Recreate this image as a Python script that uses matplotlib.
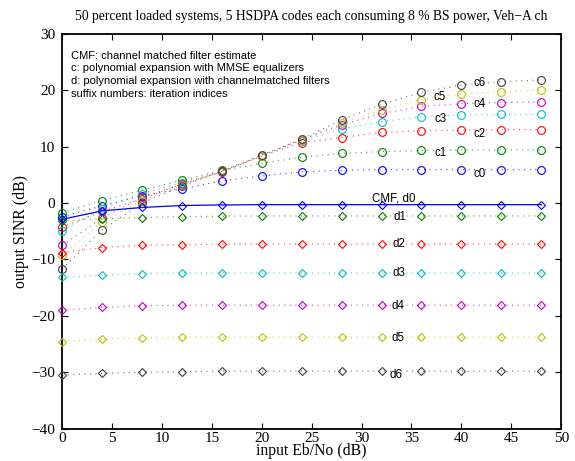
import matplotlib
matplotlib.use("Agg")
import matplotlib.pyplot as plt

# input Eb/No (dB)
ebno = [0, 4, 8, 12, 16, 20, 24, 28, 32, 36, 40, 44, 48]

# polynomial expansion with MMSE equalizers (circles)
c0 = [-2.45, -0.5, 1.3, 2.5, 3.9, 4.8, 5.5, 5.8, 5.9, 5.9, 5.9, 5.9, 5.9]
c1 = [-1.7, 0.4, 2.3, 4.0, 5.8, 7.0, 8.1, 8.8, 9.1, 9.3, 9.4, 9.4, 9.4]
c2 = [-4.3, -1.5, 0.7, 3.4, 5.5, 8.3, 10.7, 11.6, 12.5, 12.8, 12.9, 13.0, 13.0]
c3 = [-4.9, -1.0, 1.6, 3.6, 5.7, 8.4, 11.0, 13.1, 14.4, 15.3, 15.6, 15.7, 15.7]
c4 = [-7.5, -2.7, 1.0, 3.3, 5.6, 8.4, 11.2, 13.8, 15.9, 17.1, 17.6, 17.8, 17.9]
c5 = [-9.2, -3.4, 0.4, 3.1, 5.6, 8.4, 11.2, 14.1, 16.5, 18.3, 19.3, 19.7, 20.0]
c6 = [-11.7, -4.8, 0.0, 3.0, 5.6, 8.5, 11.3, 14.7, 17.5, 19.6, 20.9, 21.5, 21.8]

# CMF estimate (d0) and polynomial expansion with channel matched filters (diamonds)
d0 = [-2.9, -1.4, -0.8, -0.45, -0.35, -0.3, -0.3, -0.3, -0.3, -0.3, -0.3, -0.3, -0.3]
d1 = [-3.2, -2.8, -2.6, -2.4, -2.35, -2.3, -2.3, -2.3, -2.3, -2.3, -2.3, -2.3, -2.3]
d2 = [-8.8, -7.9, -7.5, -7.4, -7.3, -7.3, -7.3, -7.3, -7.3, -7.3, -7.3, -7.3, -7.3]
d3 = [-13.2, -12.8, -12.5, -12.4, -12.4, -12.4, -12.4, -12.4, -12.4, -12.4, -12.4, -12.4, -12.4]
d4 = [-19.0, -18.5, -18.2, -18.1, -18.1, -18.1, -18.1, -18.1, -18.1, -18.1, -18.1, -18.1, -18.1]
d5 = [-24.6, -24.1, -23.9, -23.8, -23.8, -23.8, -23.8, -23.8, -23.8, -23.8, -23.8, -23.8, -23.8]
d6 = [-30.5, -30.2, -30.0, -29.9, -29.8, -29.8, -29.8, -29.8, -29.8, -29.8, -29.8, -29.8, -29.8]

c_series = [c0, c1, c2, c3, c4, c5, c6]
d_series = [d0, d1, d2, d3, d4, d5, d6]

# label positions (x, y) per curve
c_labels = ["c0", "c1", "c2", "c3", "c4", "c5", "c6"]
c_label_pos = [(41.8, 5.2), (37.9, 8.9), (41.8, 12.3), (37.9, 14.8),
               (41.8, 17.5), (37.8, 18.7), (41.8, 21.2)]
d_labels = ["CMF, d0", "d1", "d2", "d3", "d4", "d5", "d6"]
d_label_pos = [(33.2, 0.8), (33.8, -2.4), (33.7, -7.3), (33.7, -12.4),
               (33.7, -18.2), (33.7, -24.0), (33.5, -30.4)]

title = "50 percent loaded systems, 5 HSDPA codes each consuming 8 % BS power, Veh\u2212A ch"
info_lines = ["CMF: channel matched filter estimate",
              "c: polynomial expansion with MMSE equalizers",
              "d: polynomial expansion with channelmatched filters",
              "suffix numbers: iteration indices"]

# matlab default line colours
colors = [(0, 0, 1), (0, 0.5, 0), (1, 0, 0), (0, 0.75, 0.75),
          (0.75, 0, 0.75), (0.75, 0.75, 0), (0.25, 0.25, 0.25)]

serif = "Liberation Serif"
sans = "Liberation Sans"

fig = plt.figure(figsize=(5.75, 4.61), dpi=100)
ax = fig.add_axes([0.108, 0.070, 0.868, 0.857])

for i, y in enumerate(c_series):
    ax.plot(ebno, y, linestyle=(0, (1, 4)), linewidth=0.8, color=colors[i],
            alpha=0.75, clip_on=False, zorder=2)
    ax.plot(ebno, y, linestyle="none", color=colors[i],
            marker="o", markersize=5.6, markerfacecolor="none",
            markeredgewidth=0.8, clip_on=False, zorder=3)

for i, y in enumerate(d_series):
    if i == 0:
        ax.plot(ebno, y, linestyle="-", linewidth=0.9, color=colors[i],
                clip_on=False, zorder=2)
    else:
        ax.plot(ebno, y, linestyle=(0, (1, 4)), linewidth=0.8, color=colors[i],
                alpha=0.75, clip_on=False, zorder=2)
    ax.plot(ebno, y, linestyle="none", color=colors[i],
            marker="D", markersize=4.3, markerfacecolor="none",
            markeredgewidth=0.8, clip_on=False, zorder=3)

for lab, (x, y) in zip(c_labels, c_label_pos):
    ax.text(x, y, lab, fontsize=8.3, family=sans, ha="center", va="center")
for lab, (x, y) in zip(d_labels, d_label_pos):
    ax.text(x, y, lab, fontsize=8.3, family=sans, ha="center", va="center")

for k, line in enumerate(info_lines):
    ax.text(0.9, 26.1 - k * 2.27, line, fontsize=8, family=sans,
            ha="left", va="center")

ax.set_xlim(0, 50)
ax.set_ylim(-40, 30)
ax.set_xticks(range(0, 51, 5))
ax.set_yticks(range(-40, 31, 10))
ax.tick_params(direction="in", top=True, right=True, length=4, width=0.8,
               labelsize=11)
ax.tick_params(axis="x", pad=2)
ax.tick_params(axis="y", pad=5)
for lab in ax.get_xticklabels() + ax.get_yticklabels():
    lab.set_family(serif)
for sp in ax.spines.values():
    sp.set_linewidth(1.3)

ax.set_title(title, fontsize=9.8, family=serif, pad=10)
ax.set_xlabel("input Eb/No (dB)", fontsize=11.3, family=serif, labelpad=-1)
ax.set_ylabel("output SINR (dB)", fontsize=11.3, family=serif, labelpad=2)

fig.savefig("out.png", dpi=100)
